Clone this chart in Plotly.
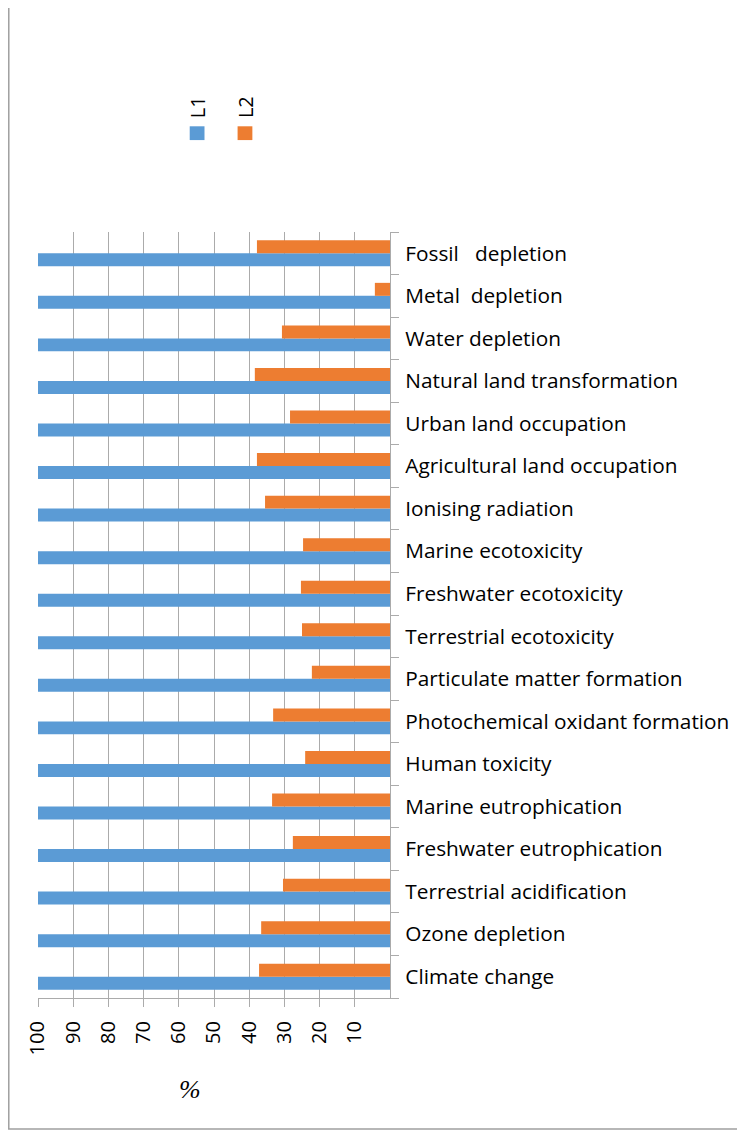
import plotly.graph_objects as go

categories = [
    "Climate change", "Ozone depletion", "Terrestrial acidification",
    "Freshwater eutrophication", "Marine eutrophication", "Human toxicity",
    "Photochemical oxidant formation", "Particulate matter formation",
    "Terrestrial ecotoxicity", "Freshwater ecotoxicity", "Marine ecotoxicity",
    "Ionising radiation", "Agricultural land occupation", "Urban land occupation",
    "Natural land transformation", "Water depletion", "Metal\u00a0 depletion",
    "Fossil\u00a0\u00a0 depletion",
]
L1 = [100] * 18
L2 = [37.2, 36.6, 30.4, 27.6, 33.5, 24.1, 33.2, 22.2, 25.0, 25.3, 24.7,
      35.5, 37.8, 28.4, 38.4, 30.7, 4.3, 37.8]
x_ticks = [10, 20, 30, 40, 50, 60, 70, 80, 90, 100]

BLUE = "#5B9BD5"
ORANGE = "#ED7D31"
FONT = "Open Sans"

fig = go.Figure()
fig.add_trace(go.Bar(y=categories, x=L1, orientation="h", name="L1",
                     marker=dict(color=BLUE, line=dict(width=0))))
fig.add_trace(go.Bar(y=categories, x=L2, orientation="h", name="L2",
                     marker=dict(color=ORANGE, line=dict(width=0))))

fig.update_layout(
    width=737, height=1127,
    barmode="group", bargap=0.39, bargroupgap=0,
    showlegend=False,
    paper_bgcolor="white", plot_bgcolor="white",
    margin=dict(l=30, r=355, t=224, b=137),
    font=dict(family=FONT, color="#000000"),
    xaxis=dict(
        range=[100, 0], tickvals=x_ticks, ticktext=[str(v) for v in x_ticks],
        tickangle=-90, tickfont=dict(size=20),
        showgrid=True, gridcolor="#ABABAB", gridwidth=1.3,
        showline=True, linecolor="#ABABAB", linewidth=1.3,
        ticks="outside", ticklen=8, tickcolor="#ABABAB", tickwidth=1.3,
        zeroline=False, fixedrange=True, ticklabelstandoff=6,
    ),
    yaxis=dict(
        side="right", categoryorder="array", categoryarray=categories,
        tickfont=dict(size=20.8), ticks="outside", tickson="boundaries",
        ticklen=8, tickcolor="#ABABAB", tickwidth=1.3,
        showline=True, linecolor="#ABABAB", linewidth=1.3,
        showgrid=False, fixedrange=True, ticklabelstandoff=10,
    ),
)

# outer chart frame
fig.add_shape(type="rect", xref="paper", yref="paper",
              x0=-0.083, x1=2.2, y0=-0.171, y1=1.35,
              line=dict(color="#A0A0A0", width=1.5), fillcolor="rgba(0,0,0,0)")

# legend (rotated, as in reference)
for name, color, xc in [("L1", BLUE, 0.452), ("L2", ORANGE, 0.588)]:
    fig.add_shape(type="rect", xref="paper", yref="paper",
                  x0=xc - 0.021, x1=xc + 0.021, y0=1.120, y1=1.138,
                  line=dict(width=0), fillcolor=color)
    fig.add_annotation(text=name, xref="paper", yref="paper", x=xc, y=1.163,
                       xanchor="center", yanchor="middle",
                       showarrow=False, textangle=-90,
                       font=dict(size=20, family=FONT, color="#000000"))

# axis title
fig.add_annotation(text="<i>%</i>", xref="paper", yref="paper", x=0.432, y=-0.120,
                   xanchor="center", yanchor="middle", showarrow=False,
                   font=dict(size=26, family="Liberation Serif", color="#000000"))

fig.write_html("out.html")
